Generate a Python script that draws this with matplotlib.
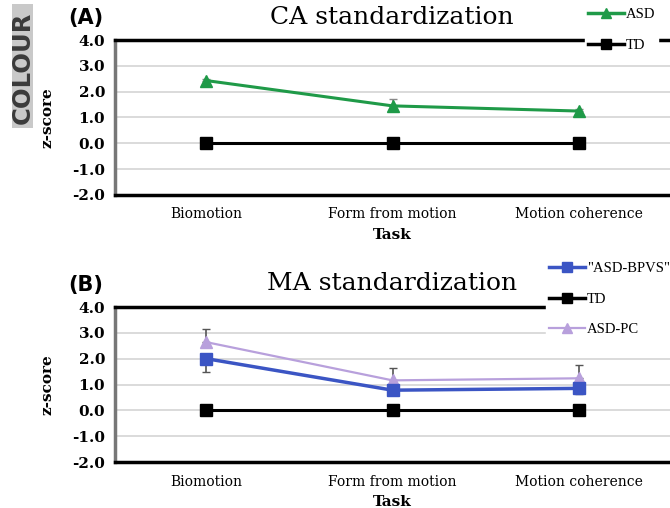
import matplotlib
matplotlib.use("Agg")
import matplotlib.pyplot as plt
from matplotlib.lines import Line2D
from matplotlib.patches import Rectangle
import numpy as np

tasks = ["Biomotion", "Form from motion", "Motion coherence"]
yticks = [-2.0, -1.0, 0.0, 1.0, 2.0, 3.0, 4.0]

# panel A: CA standardization
asd_a = [2.43, 1.45, 1.25]
asd_a_err = [0.05, 0.25, 0.08]
td_a = [0.0, 0.0, 0.0]

# panel B: MA standardization
bpvs_b = [2.0, 0.78, 0.85]
bpvs_b_err = [0.5, 0.2, 0.2]
td_b = [0.0, 0.0, 0.0]
pc_b = [2.64, 1.16, 1.24]
pc_b_err = [0.5, 0.47, 0.5]

serif = "DejaVu Serif"
W, H = 670, 508
fig = plt.figure(figsize=(W / 100, H / 100), dpi=100)

GREEN = "#1f9a48"
BLUE = "#3b55c4"
PURPLE = "#b8a0dc"

def make_axes(top_px, title, letter):
    ax = fig.add_axes([115 / W, 1 - (top_px + 155) / H, 555 / W, 155 / H])
    x = np.arange(len(tasks))
    ax.set_xlim(-0.49, 2.49)
    ax.set_ylim(-2, 4)
    ax.set_yticks(yticks)
    ax.set_yticklabels(["%.1f" % v for v in yticks], fontfamily=serif,
                       fontweight="bold", fontsize=11)
    ax.set_xticks(x)
    ax.set_xticklabels(tasks, fontfamily=serif, fontsize=10)
    ax.tick_params(length=0, pad=9)
    ax.tick_params(axis="y", pad=7)
    ax.grid(axis="y", color="#d4d4d4", lw=1.2)
    ax.set_axisbelow(True)
    ax.spines["right"].set_visible(False)
    ax.spines["left"].set_color("#777777")
    ax.spines["left"].set_linewidth(2.5)
    ax.spines["bottom"].set_linewidth(2.5)
    ax.spines["top"].set_linewidth(2.5)
    ax.set_ylabel("z-score", fontfamily=serif, fontweight="bold", fontsize=11,
                  labelpad=13)
    ax.set_xlabel("Task", fontfamily=serif, fontweight="bold", fontsize=11,
                  labelpad=5)
    fig.text(392 / W, 1 - (top_px - 23) / H, title, fontfamily=serif,
             fontsize=18, ha="center", va="center")
    fig.text(68 / W, 1 - (top_px - 22) / H, letter, fontweight="bold",
             fontsize=15, ha="left", va="center")
    return ax, x

def add_legend(ax, handles, labels, anchor):
    leg = ax.legend(handles, labels, loc="upper left", bbox_to_anchor=anchor,
                    frameon=True, prop={"family": "Liberation Serif", "size": 10.5},
                    handlelength=2.5, handletextpad=0.1, labelspacing=1.2,
                    borderpad=0.2, borderaxespad=0)
    leg.get_frame().set_facecolor("white")
    leg.get_frame().set_edgecolor("white")
    leg.get_frame().set_alpha(1)
    return leg

axA, x = make_axes(40, "CA standardization", "(A)")
axA.errorbar(x, asd_a, yerr=[[0, 0, 0], asd_a_err], color=GREEN, lw=2.2,
             marker="^", ms=8, ecolor="#888888", elinewidth=1.2, capsize=3,
             zorder=3)
axA.plot(x, td_a, color="black", lw=2.2, marker="s", ms=8, zorder=3)
hA = [Line2D([], [], color=GREEN, lw=2.5, marker="^", ms=7),
      Line2D([], [], color="black", lw=2.5, marker="s", ms=7)]
add_legend(axA, hA, ["ASD", "TD"], (470 / 555, 1.225))

axB, x = make_axes(307, "MA standardization", "(B)")
axB.errorbar(x, pc_b, yerr=[[0, 0, 0], pc_b_err], color=PURPLE, lw=1.6,
             marker="^", ms=8, ecolor="#555555", elinewidth=1.2, capsize=3,
             zorder=3)
axB.errorbar(x, bpvs_b, yerr=[bpvs_b_err, [0, 0, 0]], color=BLUE, lw=2.5,
             marker="s", ms=8, ecolor="#555555", elinewidth=1.2, capsize=3,
             zorder=4)
axB.plot(x, td_b, color="black", lw=2.2, marker="s", ms=8, zorder=3)
hB = [Line2D([], [], color=BLUE, lw=2.5, marker="s", ms=7),
      Line2D([], [], color="black", lw=2.5, marker="s", ms=7),
      Line2D([], [], color=PURPLE, lw=1.6, marker="^", ms=7)]
add_legend(axB, hB, ['"ASD-BPVS"', "TD", "ASD-PC"], (431 / 555, 1.31))

fig.patches.append(Rectangle((12 / W, 1 - 128 / H), 21 / W, 124 / H,
                             transform=fig.transFigure, fc="#c9c9c9", ec="none"))
fig.text(23 / W, 1 - 68 / H, "COLOUR", rotation=90, fontsize=17.5,
         fontweight="bold", color="#3a3a3a", ha="center", va="center")

fig.savefig("out.png", dpi=100)
